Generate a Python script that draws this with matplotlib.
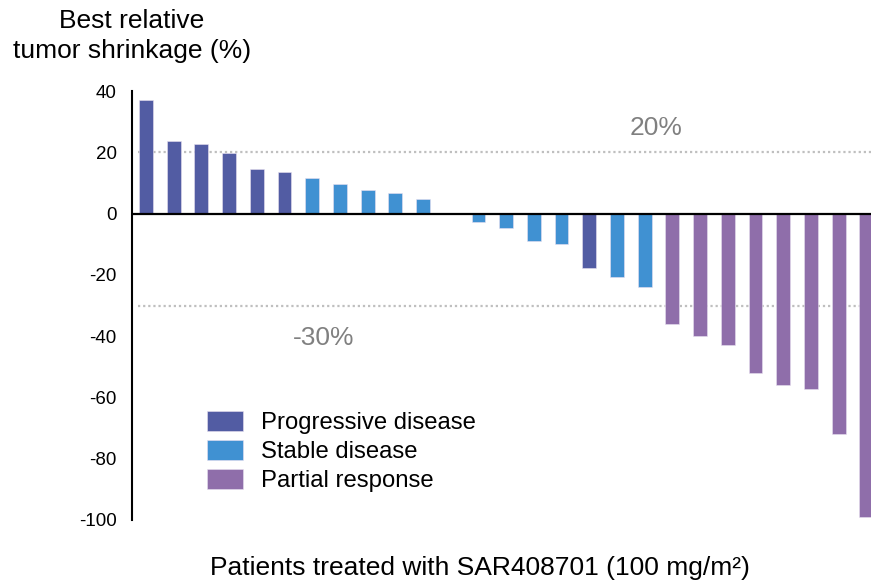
import matplotlib
matplotlib.use("Agg")
import matplotlib.pyplot as plt
from matplotlib.patches import Patch

plt.rcParams['font.family'] = ['Liberation Sans', 'DejaVu Sans']

values = [37.2, 23.6, 22.7, 19.7, 14.7, 13.7, 11.6, 9.7, 7.6, 6.6, 4.7, 0.0,
          -2.7, -4.7, -8.8, -9.8, -17.8, -20.8, -23.9,
          -36.0, -39.9, -42.8, -52.0, -56.0, -57.1, -72.0, -99.0]
status = ['PD', 'PD', 'PD', 'PD', 'PD', 'PD', 'SD', 'SD', 'SD', 'SD', 'SD', 'SD',
          'SD', 'SD', 'SD', 'SD', 'PD', 'SD', 'SD',
          'PR', 'PR', 'PR', 'PR', 'PR', 'PR', 'PR', 'PR']
legend_labels = {'PD': 'Progressive disease', 'SD': 'Stable disease', 'PR': 'Partial response'}
colors = {'PD': '#525ca3', 'SD': '#4091d2', 'PR': '#8f6eaa'}
yticks = [40, 20, 0, -20, -40, -60, -80, -100]
thresholds = [20, -30]

W, H = 871, 581
fig = plt.figure(figsize=(W / 100, H / 100), dpi=100)
ax = fig.add_axes([132 / W, 61 / H, (W - 132) / W, (520 - 91) / H])

x = list(range(len(values)))
ax.bar(x, values, width=0.5, color=[colors[s] for s in status], zorder=3,
       edgecolor='#e8e0f0', linewidth=0.4)

ax.set_xlim(-0.505, 26.17)
ax.set_ylim(-100, 40)

for t in thresholds:
    ax.plot([-0.3, 26.17], [t, t], color='#bfbfbf', lw=1.6,
            linestyle=(0, (1, 1.3)), zorder=1, clip_on=False)

ax.axhline(0, color='black', lw=1.6, zorder=4)

ax.text(18.4, 28.0, '20%', color='#808080', fontsize=19, ha='center', va='center')
ax.text(6.4, -40.5, '-30%', color='#808080', fontsize=19, ha='center', va='center')

for s in ['top', 'right', 'bottom']:
    ax.spines[s].set_visible(False)
ax.spines['left'].set_linewidth(1.5)
ax.set_xticks([])
ax.set_yticks(yticks)
ax.set_yticklabels([str(v) for v in yticks])
ax.tick_params(axis='y', length=0, pad=11, labelsize=13.5)

handles = [Patch(facecolor=colors[k], edgecolor='#e8e0f0', linewidth=0.4, label=legend_labels[k])
           for k in ['PD', 'SD', 'PR']]
ax.legend(handles=handles, loc='upper left', bbox_to_anchor=(207 / W, 1 - 411 / H),
          bbox_transform=fig.transFigure, frameon=False, fontsize=17.2,
          handlelength=1.5, handleheight=0.92, handletextpad=0.75,
          labelspacing=0.24, borderpad=0, borderaxespad=0)

fig.text(132 / W, 1 - 36 / H, 'Best relative\ntumor shrinkage (%)', ha='center', va='center',
         fontsize=19, linespacing=1.32)
fig.text(480 / W, 1 - 568 / H, 'Patients treated with SAR408701 (100 mg/m²)',
         ha='center', va='center', fontsize=19)

fig.savefig('out.png', dpi=100)
